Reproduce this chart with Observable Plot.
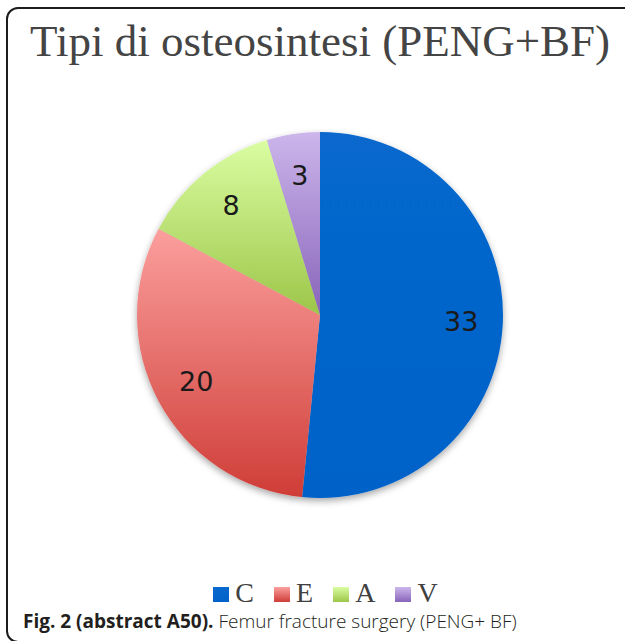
<!DOCTYPE html>
<html>
<head>
<meta charset="utf-8">
<script src="https://cdn.jsdelivr.net/npm/d3@7"></script>
<script src="https://cdn.jsdelivr.net/npm/@observablehq/plot@0.6"></script>
<style>
  html, body { margin: 0; padding: 0; background: #fff; }
  body { width: 625px; height: 641px; position: relative; overflow: hidden; }
  #frame { position: absolute; left: 6px; top: 7px; width: 720px; height: 632px;
           border: 2px solid #1c1c1c; border-radius: 12px; }
  #title { position: absolute; left: 30px; top: 11px; white-space: nowrap;
           font-family: "Liberation Serif", serif; font-size: 45px; line-height: 60px; color: #444; }
  #chart { position: absolute; left: 0; top: 75px; }
  #legend { position: absolute; left: 0; width: 625px; top: 577px; display: flex; justify-content: center;
            padding-left: 26px; box-sizing: border-box; font-family: "Liberation Serif", serif; font-size: 28px;
            line-height: 32px; color: #404040; }
  #legend .item { display: flex; align-items: center; margin: 0 10px; }
  #legend .sw { width: 16px; height: 15px; margin-right: 6px; margin-top: 2px; }
  #caption { position: absolute; left: 23px; top: 609px; white-space: nowrap;
             font-family: "Open Sans", sans-serif; font-size: 19px; line-height: 24px; color: #231f20; }
  #caption b { font-weight: 700; }
  #caption span { font-weight: 300; }
</style>
</head>
<body>
<div id="frame"></div>
<div id="title">Tipi di osteosintesi (PENG+BF)</div>
<div id="chart"></div>
<div id="legend"></div>
<div id="caption"><b>Fig. 2 (abstract A50).</b> <span>Femur fracture surgery (PENG+ BF)</span></div>
<script>
// ---- data ----
const categories = ["C", "E", "A", "V"];
const counts = [33, 20, 8, 3];
const topColors = ["#0768cd", "#fb9f9d", "#dafda2", "#ccb6eb"];
const bottomColors = ["#0362c9", "#cf3d37", "#9cc649", "#8864ba"];

const data = categories.map((c, i) => ({category: c, value: counts[i]}));
const arcs = d3.pie().sort(null).value(d => d.value)(data);
const labelRadius = 0.77;
const labels = arcs.map(a => {
  const m = (a.startAngle + a.endAngle) / 2;
  return {text: String(a.data.value), x: labelRadius * Math.sin(m), y: labelRadius * Math.cos(m)};
});

const W = 625, H = 480, cx = 320, cy = 240, R = 183;

function pieMark(index, scales) {
  const x = scales.x, y = scales.y;
  const px = x(0), py = y(0), rad = x(1) - x(0);
  const ns = "http://www.w3.org/2000/svg";
  const g = document.createElementNS(ns, "g");
  const defs = document.createElementNS(ns, "defs");
  g.appendChild(defs);
  const filt = document.createElementNS(ns, "filter");
  filt.setAttribute("id", "shadow");
  filt.setAttribute("x", "-20%"); filt.setAttribute("y", "-20%");
  filt.setAttribute("width", "140%"); filt.setAttribute("height", "140%");
  const ds = document.createElementNS(ns, "feDropShadow");
  ds.setAttribute("dx", "0"); ds.setAttribute("dy", "3");
  ds.setAttribute("stdDeviation", "3.5");
  ds.setAttribute("flood-color", "#000"); ds.setAttribute("flood-opacity", "0.35");
  filt.appendChild(ds);
  defs.appendChild(filt);
  const arcGen = d3.arc().innerRadius(0).outerRadius(rad);
  const pg = document.createElementNS(ns, "g");
  pg.setAttribute("transform", `translate(${px},${py})`);
  pg.setAttribute("filter", "url(#shadow)");
  arcs.forEach((a, i) => {
    const lg = document.createElementNS(ns, "linearGradient");
    lg.setAttribute("id", "grad" + i);
    lg.setAttribute("x1", "0"); lg.setAttribute("y1", "0");
    lg.setAttribute("x2", "0"); lg.setAttribute("y2", "1");
    [[0, topColors[i]], [1, bottomColors[i]]].forEach(([o, c]) => {
      const s = document.createElementNS(ns, "stop");
      s.setAttribute("offset", o); s.setAttribute("stop-color", c);
      lg.appendChild(s);
    });
    defs.appendChild(lg);
    const p = document.createElementNS(ns, "path");
    p.setAttribute("d", arcGen(a));
    p.setAttribute("fill", `url(#grad${i})`);
    pg.appendChild(p);
  });
  g.appendChild(pg);
  return g;
}

const chart = Plot.plot({
  width: W, height: H, margin: 0,
  style: {background: "transparent", overflow: "visible"},
  x: {domain: [-1, 1], range: [cx - R, cx + R], axis: null},
  y: {domain: [-1, 1], range: [cy + R, cy - R], axis: null},
  marks: [
    pieMark,
    Plot.text(labels, {x: "x", y: "y", text: "text", fontSize: 27,
      fontFamily: "DejaVu Sans", fill: "#1a1a1a", textAnchor: "middle", lineAnchor: "middle"})
  ]
});
document.getElementById("chart").appendChild(chart);

// legend
const legend = document.getElementById("legend");
categories.forEach((c, i) => {
  const it = document.createElement("div");
  it.className = "item";
  const sw = document.createElement("div");
  sw.className = "sw";
  sw.style.background = `linear-gradient(${topColors[i]}, ${bottomColors[i]})`;
  const t = document.createElement("span");
  t.textContent = c;
  it.appendChild(sw); it.appendChild(t);
  legend.appendChild(it);
});
</script>
</body>
</html>
